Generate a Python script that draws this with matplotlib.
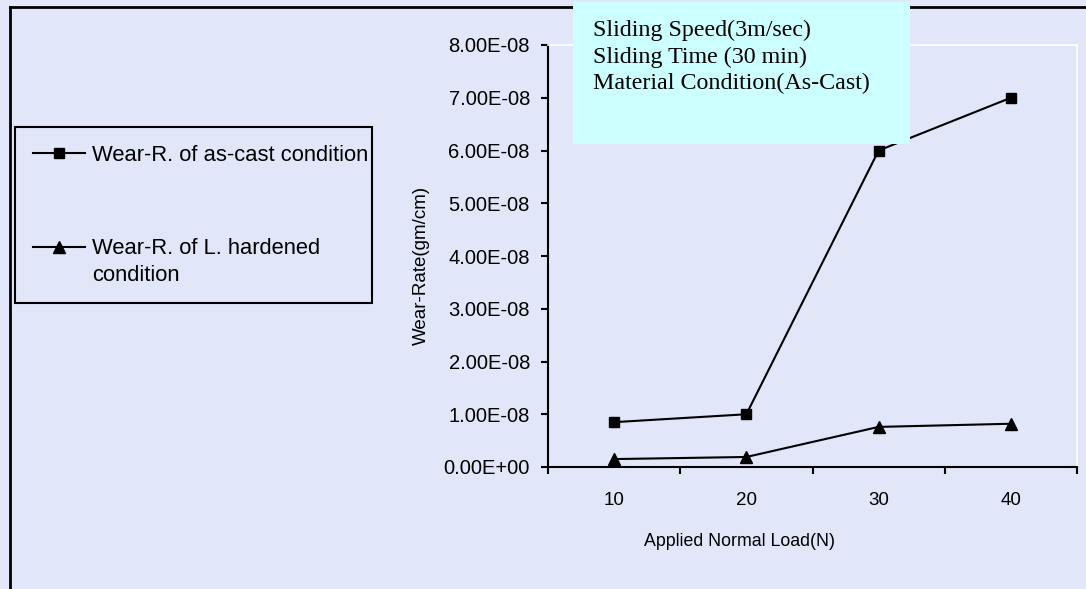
import numpy as np
import matplotlib
matplotlib.use('Agg')
import matplotlib.pyplot as plt
from matplotlib.lines import Line2D
from matplotlib.patches import Rectangle

loads = ['10', '20', '30', '40']
wear_as_cast = [8.5e-9, 1.0e-8, 6.0e-8, 7.0e-8]
wear_hardened = [1.5e-9, 1.9e-9, 7.6e-9, 8.2e-9]
y_ticks = [0, 1e-8, 2e-8, 3e-8, 4e-8, 5e-8, 6e-8, 7e-8, 8e-8]
info_lines = ['Sliding Speed(3m/sec)', 'Sliding Time (30 min)', 'Material Condition(As-Cast)']

bg = '#E1E6F9'
W, H = 1086, 589

plt.rcParams['font.family'] = ['Liberation Sans', 'DejaVu Sans']

fig = plt.figure(figsize=(W / 100, H / 100), dpi=100)
fig.patch.set_facecolor(bg)

ax = fig.add_axes([548 / W, 1 - 467 / H, (1077 - 548) / W, (467 - 45) / H])
ax.set_facecolor(bg)

x = np.arange(len(loads))
ax.plot(x, wear_as_cast, color='black', lw=1.5, marker='s', ms=7,
        label='Wear-R. of as-cast condition')
ax.plot(x, wear_hardened, color='black', lw=1.5, marker='^', ms=8.5,
        label='Wear-R. of L. hardened\ncondition')

ax.set_xlim(-0.5, len(loads) - 0.5)
ax.set_ylim(0, 8e-8)
ax.set_yticks(y_ticks)
ax.set_yticklabels(['%.2E' % v for v in y_ticks])
ax.set_xticks(np.arange(len(loads) + 1) - 0.5)
ax.set_xticklabels([])
ax.set_xticks(x, minor=True)
ax.set_xticklabels(loads, minor=True)
ax.tick_params(axis='x', which='major', direction='out', length=5, width=1.5)
ax.tick_params(axis='x', which='minor', length=0, pad=18, labelsize=13.5)
ax.tick_params(axis='y', direction='out', length=5, width=1.5, pad=8, labelsize=14.5)

for s in ['left', 'bottom']:
    ax.spines[s].set_linewidth(1.5)
for s in ['top', 'right']:
    ax.spines[s].set_color('white')
    ax.spines[s].set_linewidth(1.2)

ax.set_xlabel('Applied Normal Load(N)', fontsize=12.8)
ax.xaxis.set_label_coords((740 - 548) / (1077 - 548), -(541 - 467) / (467 - 45))
ax.xaxis.label.set_va('center')
ax.set_ylabel('Wear-Rate(gm/cm)', fontsize=13.5)
ax.yaxis.set_label_coords(-(548 - 421) / (1077 - 548), (467 - 265) / (467 - 45))
ax.yaxis.label.set_va('center')

# outer chart frame (left and top edges visible)
fig.add_artist(Line2D([9.5 / W, 9.5 / W], [0, 1 - 6.5 / H], color='black', lw=2,
                      transform=fig.transFigure))
fig.add_artist(Line2D([9.5 / W, 1], [1 - 6.5 / H, 1 - 6.5 / H], color='black', lw=2,
                      transform=fig.transFigure))

# info box
fig.add_artist(Rectangle((573 / W, 1 - 144 / H), (910 - 573) / W, 142 / H,
                         facecolor='#CCFFFF', edgecolor='none',
                         transform=fig.transFigure, zorder=2))
for i, t in enumerate(info_lines):
    fig.text(593 / W, 1 - (36 + 26.7 * i) / H, t, family='Liberation Serif',
             fontsize=17.3, va='baseline', ha='left', zorder=3)

leg = fig.legend(loc='upper left',
                 bbox_to_anchor=(15 / W, 1 - 127 / H, (372 - 15) / W, 0),
                 mode='expand', fontsize=15.8, frameon=True, fancybox=False,
                 edgecolor='black', facecolor=bg, framealpha=1,
                 numpoints=1, handlelength=2.4, handletextpad=0.3,
                 labelspacing=3.3, borderpad=0.8, borderaxespad=0)
leg.get_frame().set_linewidth(1.5)
for t in leg.get_texts():
    t.set_linespacing(1.35)
# align second handle with the first line of its label
hl = leg.get_lines()[1]
hl.set_ydata(np.asarray(hl.get_ydata()) + 10.7)

fig.savefig('out.png', dpi=100, facecolor=bg)
